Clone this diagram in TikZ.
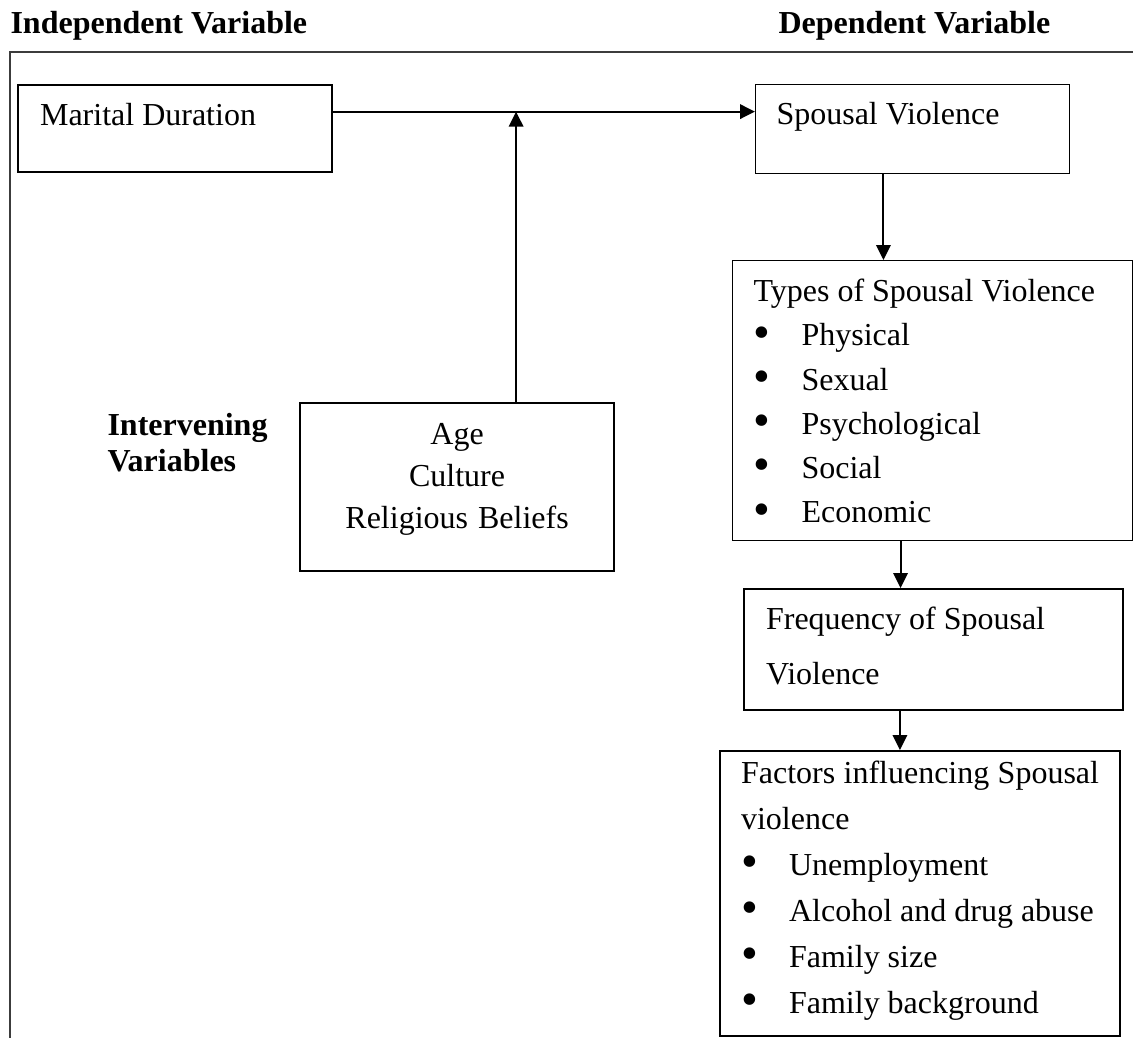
\documentclass[tikz,border=0pt]{standalone}
\usepackage{fontspec}
\setmainfont{Liberation Serif}
\usepackage{tikz}
\usetikzlibrary{arrows.meta, positioning, calc}
\definecolor{frameline}{RGB}{60,60,60}
\newcommand{\vitem}[1]{\\\makebox[18pt][l]{\raisebox{-0.85pt}{\scalebox{1.5}{\textbullet}}}\mbox{#1}}

\begin{document}
\begin{tikzpicture}[x=0.375pt, y=-0.375pt,
  heavybox/.style={draw, line width=0.8pt, anchor=north west, inner ysep=0pt, align=left,
                   execute at begin node={\spaceskip=0pt\xspaceskip=0pt\relax}},
  lightbox/.style={heavybox, line width=0.4pt},
  heading/.style={anchor=base west, inner sep=0pt, align=left, font=\fontsize{12}{13.5}\selectfont\bfseries},
  arr/.style={-{Triangle[length=5.6pt, width=5.4pt]}, line width=0.75pt}]
  \useasboundingbox (0,0) rectangle (1133,1038);
  % frame
  \draw[frameline, line width=0.5pt] (1133,52) -- (10,52) -- (10,1038);
  % headings
  \node[heading] (indep) at (10,33) {Independent Variable};
  \node[heading] (dep) at (778,33) {Dependent Variable};
  \node[heading, text width=70pt] (interv) at (107,435) {Intervening\\Variables};
  % independent and intervening
  \node[heavybox, inner xsep=8.25pt, text width=101.25pt, text height=15pt, text depth=17.6pt,
        font=\fontsize{12}{14}\selectfont] (md) at (17,84) {Marital Duration};
  \node[heavybox, align=center, inner xsep=5pt, text width=107.75pt, text height=15.4pt, text depth=47.6pt,
        font=\fontsize{12}{15.75}\selectfont] (ag) at (299,402) {Age\\Culture\\Religious Beliefs};
  % dependent chain
  \node[lightbox, inner xsep=7.875pt, text width=102pt, text height=15pt, text depth=18.4pt,
        font=\fontsize{12}{14}\selectfont] (sv) at (755,84) {Spousal Violence};
  \node[lightbox, inner xsep=7.875pt, text width=134.25pt, text height=15.4pt, text depth=89.6pt,
        font=\fontsize{12}{16.6}\selectfont] (ty) at (732,260)
        {Types of Spousal Violence\vitem{Physical}\vitem{Sexual}\vitem{Psychological}\vitem{Social}\vitem{Economic}};
  \node[heavybox, inner xsep=8.25pt, text width=125.6pt, text height=15pt, text depth=30.4pt,
        font=\fontsize{12}{20.6}\selectfont] (fq) at (743,588) {Frequency of Spousal\\Violence};
  \node[heavybox, inner xsep=7.875pt, text width=134.25pt, text height=12pt, text depth=94.9pt,
        font=\fontsize{12}{17.25}\selectfont] (fc) at (719,750)
        {Factors\hfill influencing\hfill Spousal\\violence\vitem{Unemployment}\vitem{Alcohol and drug abuse}\vitem{Family size}\vitem{Family background}};
  % arrows
  \coordinate (mdout) at ($(md.north east)!0.31!(md.south east)$);
  \coordinate (agout) at ($(ag.north)+(59,0)$);
  \draw[arr] (mdout) -- (mdout -| sv.west);
  \draw[arr] (agout) -- (agout |- mdout);
  \draw[arr] ([xshift=-10.9pt]sv.south) -- ([xshift=-10.9pt]sv.south |- ty.north);
  \draw[arr] ([xshift=-12pt]ty.south) -- ([xshift=-12pt]ty.south |- fq.north);
  \draw[arr] ([xshift=-12.6pt]fq.south) -- ([xshift=-12.6pt]fq.south |- fc.north);
\end{tikzpicture}
\end{document}
